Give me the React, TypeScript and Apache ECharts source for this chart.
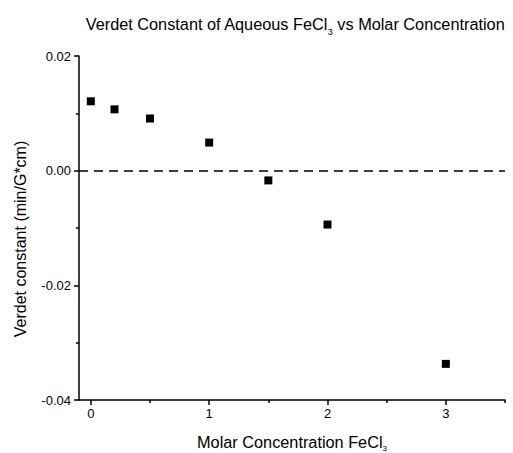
import React, { useEffect, useRef } from "react";
import * as echarts from "echarts";

const concentrations = [0, 0.2, 0.5, 1, 1.5, 2, 3];
const verdetValues = [0.0121, 0.0107, 0.0091, 0.0049, -0.0017, -0.0094, -0.0337];
const xTickValues = [0, 1, 2, 3];
const xMinorTickValues = [0.5, 1.5, 2.5, 3.5];

const FONT = "Liberation Sans, Arial, sans-serif";

export default function App() {
  const ref = useRef<HTMLDivElement>(null);
  useEffect(() => {
    document.body.style.margin = "0";
    if (!ref.current) return;
    const chart = echarts.init(ref.current, null, { renderer: "svg" });
    const axisLine = { show: true, onZero: false, lineStyle: { color: "#000", width: 1.5 } };
    chart.setOption({
      animation: false,
      backgroundColor: "#fff",
      textStyle: { fontFamily: FONT },
      grid: { left: 79, right: 8, top: 56, bottom: 53 },
      xAxis: [
        {
          type: "value",
          min: -0.1,
          max: 3.5,
          axisLine,
          axisTick: { show: true, inside: false, length: 5, customValues: xTickValues, lineStyle: { color: "#000", width: 1.5 } },
          axisLabel: { customValues: xTickValues, color: "#000", fontSize: 13, margin: 7, fontFamily: FONT },
          splitLine: { show: false },
        },
        {
          type: "value",
          position: "bottom",
          min: -0.1,
          max: 3.5,
          axisLine: { show: false, onZero: false },
          axisTick: { show: true, inside: false, length: 3, customValues: xMinorTickValues, lineStyle: { color: "#000", width: 1.5 } },
          axisLabel: { show: false },
          splitLine: { show: false },
        },
      ],
      yAxis: {
        type: "value",
        min: -0.04,
        max: 0.02,
        interval: 0.02,
        axisLine,
        axisTick: { show: true, inside: false, length: 5, lineStyle: { color: "#000", width: 1.5 } },
        minorTick: { show: true, splitNumber: 2, length: 3, lineStyle: { color: "#000", width: 1.5 } },
        axisLabel: {
          color: "#000",
          fontSize: 13,
          margin: 8,
          fontFamily: FONT,
          formatter: (v: number) => v.toFixed(2),
        },
        splitLine: { show: false },
      },
      series: [
        {
          type: "scatter",
          xAxisIndex: 0,
          data: concentrations.map((c, i) => [c, verdetValues[i]]),
          symbol: "rect",
          symbolSize: 8,
          itemStyle: { color: "#000", opacity: 1 },
          markLine: {
            silent: true,
            symbol: "none",
            label: { show: false },
            lineStyle: { color: "#000", type: [9, 6], width: 1.5 },
            data: [{ yAxis: 0 }],
          },
        },
      ],
      graphic: [
        {
          type: "text",
          x: 295,
          y: 24,
          style: {
            text: "Verdet Constant of Aqueous FeCl{sub|3} vs Molar Concentration",
            fontSize: 16.3,
            fontFamily: FONT,
            fill: "#000",
            align: "center",
            verticalAlign: "middle",
            rich: { sub: { fontSize: 9, fontFamily: FONT, padding: [15, 0, 0, 0], fill: "#000" } },
          },
        },
        {
          type: "text",
          x: 292,
          y: 442,
          style: {
            text: "Molar Concentration FeCl{sub|3}",
            fontSize: 16.3,
            fontFamily: FONT,
            fill: "#000",
            align: "center",
            verticalAlign: "middle",
            rich: { sub: { fontSize: 8, fontFamily: FONT, padding: [12, 0, 0, 0], fill: "#000" } },
          },
        },
        {
          type: "text",
          x: 20,
          y: 239,
          rotation: Math.PI / 2,
          style: {
            text: "Verdet constant (min/G*cm)",
            fontSize: 16,
            fontFamily: FONT,
            fill: "#000",
            align: "center",
            verticalAlign: "middle",
          },
        },
      ],
    });
    return () => chart.dispose();
  }, []);
  return <div ref={ref} style={{ width: 513, height: 453 }} />;
}
